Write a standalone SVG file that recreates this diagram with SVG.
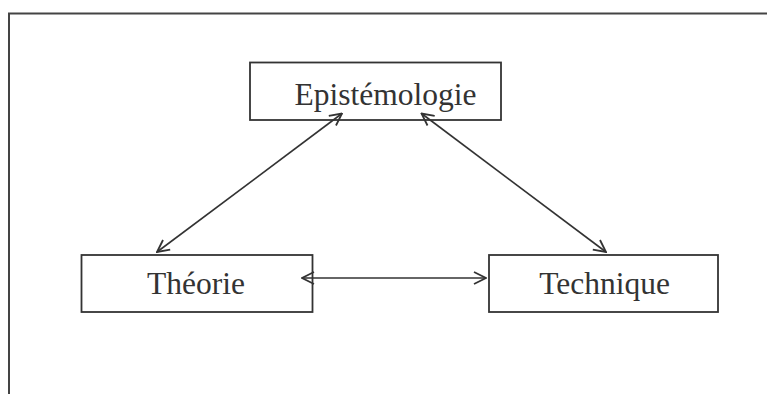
<svg xmlns="http://www.w3.org/2000/svg" width="767" height="394" viewBox="0 0 767 394">
<style>
.frame{fill:none;stroke:#444;stroke-width:2}
.box{fill:#fff;stroke:#333;stroke-width:1.8}
.lbl{font-family:"Liberation Serif","Times New Roman",serif;font-size:31.5px;fill:#333;text-anchor:middle}
.conn{fill:none;stroke:#333;stroke-width:1.6;marker-start:url(#ah);marker-end:url(#ah)}
</style>
<defs>
<marker id="ah" viewBox="0 0 14 14" refX="13" refY="7" markerWidth="14" markerHeight="14" markerUnits="userSpaceOnUse" orient="auto-start-reverse">
<path d="M1,1 L13,7 L1,13" fill="none" stroke="#333" stroke-width="1.8"/>
</marker>
</defs>
<rect width="767" height="394" fill="#fff"/>
<path class="frame" d="M9,394 V13.5 H767"/>
<g id="epistemologie">
<rect class="box" x="250" y="62.5" width="251" height="57.5"/>
<text class="lbl" x="385.5" y="105">Epistémologie</text>
</g>
<g id="theorie">
<rect class="box" x="81.5" y="255" width="231" height="57"/>
<text class="lbl" x="196" y="294">Théorie</text>
</g>
<g id="technique">
<rect class="box" x="489" y="255" width="229" height="57"/>
<text class="lbl" x="604.5" y="294">Technique</text>
</g>
<g id="connectors">
<line class="conn" x1="342" y1="113.5" x2="157" y2="252"/>
<line class="conn" x1="421.5" y1="113.5" x2="606" y2="252"/>
<line class="conn" x1="302" y1="278" x2="486" y2="278"/>
</g>
</svg>
